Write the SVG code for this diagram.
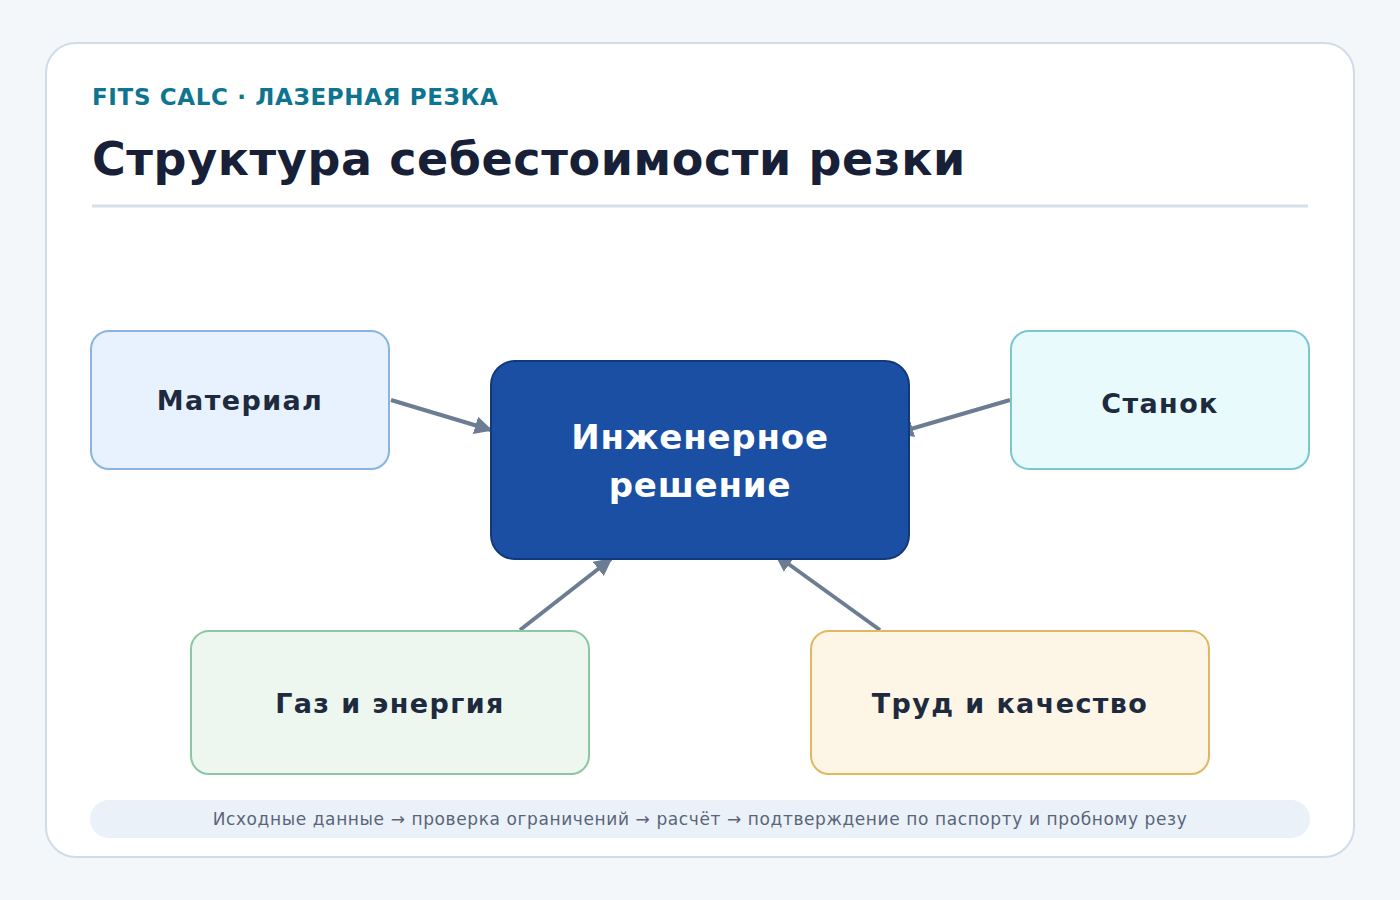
<svg xmlns="http://www.w3.org/2000/svg" width="1400" height="900" viewBox="0 0 1400 900">
<style>
text{font-family:"DejaVu Sans","Noto Sans",sans-serif}
.nl{font-weight:bold;font-size:27px;fill:#1e2a3e;text-anchor:middle;letter-spacing:1.4px}
.c{stroke:#6b7c93;stroke-width:4;fill:none;marker-end:url(#a)}
</style>
<defs><marker id="a" viewBox="0 0 10 10" refX="9" refY="5" markerWidth="4.5" markerHeight="4.5" orient="auto" markerUnits="strokeWidth"><path d="M0,0L10,5L0,10z" fill="#6b7c93"/></marker></defs>
<rect width="1400" height="900" fill="#f4f7fa"/>
<rect x="46" y="43" width="1308" height="814" rx="30" fill="#fff" stroke="#d0dce8" stroke-width="2"/>
<text x="92" y="105" font-size="23" font-weight="bold" fill="#0e7490" letter-spacing="0.65">FITS CALC · ЛАЗЕРНАЯ РЕЗКА</text>
<text x="92" y="175" font-size="46" font-weight="bold" fill="#172036" letter-spacing="0.6">Структура себестоимости резки</text>
<line x1="92" y1="206" x2="1308" y2="206" stroke="#d6e0ea" stroke-width="3"/>
<g id="connectors">
<line class="c" x1="391" y1="400" x2="491" y2="430"/>
<line class="c" x1="1010" y1="400" x2="897" y2="433"/>
<line class="c" x1="520" y1="630" x2="611" y2="559"/>
<line class="c" x1="880" y1="630" x2="776" y2="555"/>
</g>
<g id="material"><rect x="91" y="331" width="298" height="138" rx="18" fill="#e8f2fe" stroke="#8ab4e0" stroke-width="2"/><text class="nl" x="240" y="410">Материал</text></g>
<g id="center"><rect x="491" y="361" width="418" height="198" rx="24" fill="#1a4fa3" stroke="#123a7a" stroke-width="2"/><text class="nl" x="700" y="449" style="fill:#fff;font-size:34px;letter-spacing:0.8px">Инженерное</text><text class="nl" x="700" y="497" style="fill:#fff;font-size:34px;letter-spacing:0.8px">решение</text></g>
<g id="stanok"><rect x="1011" y="331" width="298" height="138" rx="18" fill="#e8fafc" stroke="#7cc6d0" stroke-width="2"/><text class="nl" x="1160" y="413">Станок</text></g>
<g id="gas"><rect x="191" y="631" width="398" height="143" rx="18" fill="#edf7f0" stroke="#8cc7a3" stroke-width="2"/><text class="nl" x="390" y="713">Газ и энергия</text></g>
<g id="labor"><rect x="811" y="631" width="398" height="143" rx="18" fill="#fdf6e6" stroke="#e0b860" stroke-width="2"/><text class="nl" x="1010" y="713">Труд и качество</text></g>
<rect x="90" y="800" width="1220" height="38" rx="19" fill="#ebf1f8"/>
<text x="700" y="825" font-size="17" fill="#5a6578" text-anchor="middle" letter-spacing="0.6">Исходные данные → проверка ограничений → расчёт → подтверждение по паспорту и пробному резу</text>
</svg>
